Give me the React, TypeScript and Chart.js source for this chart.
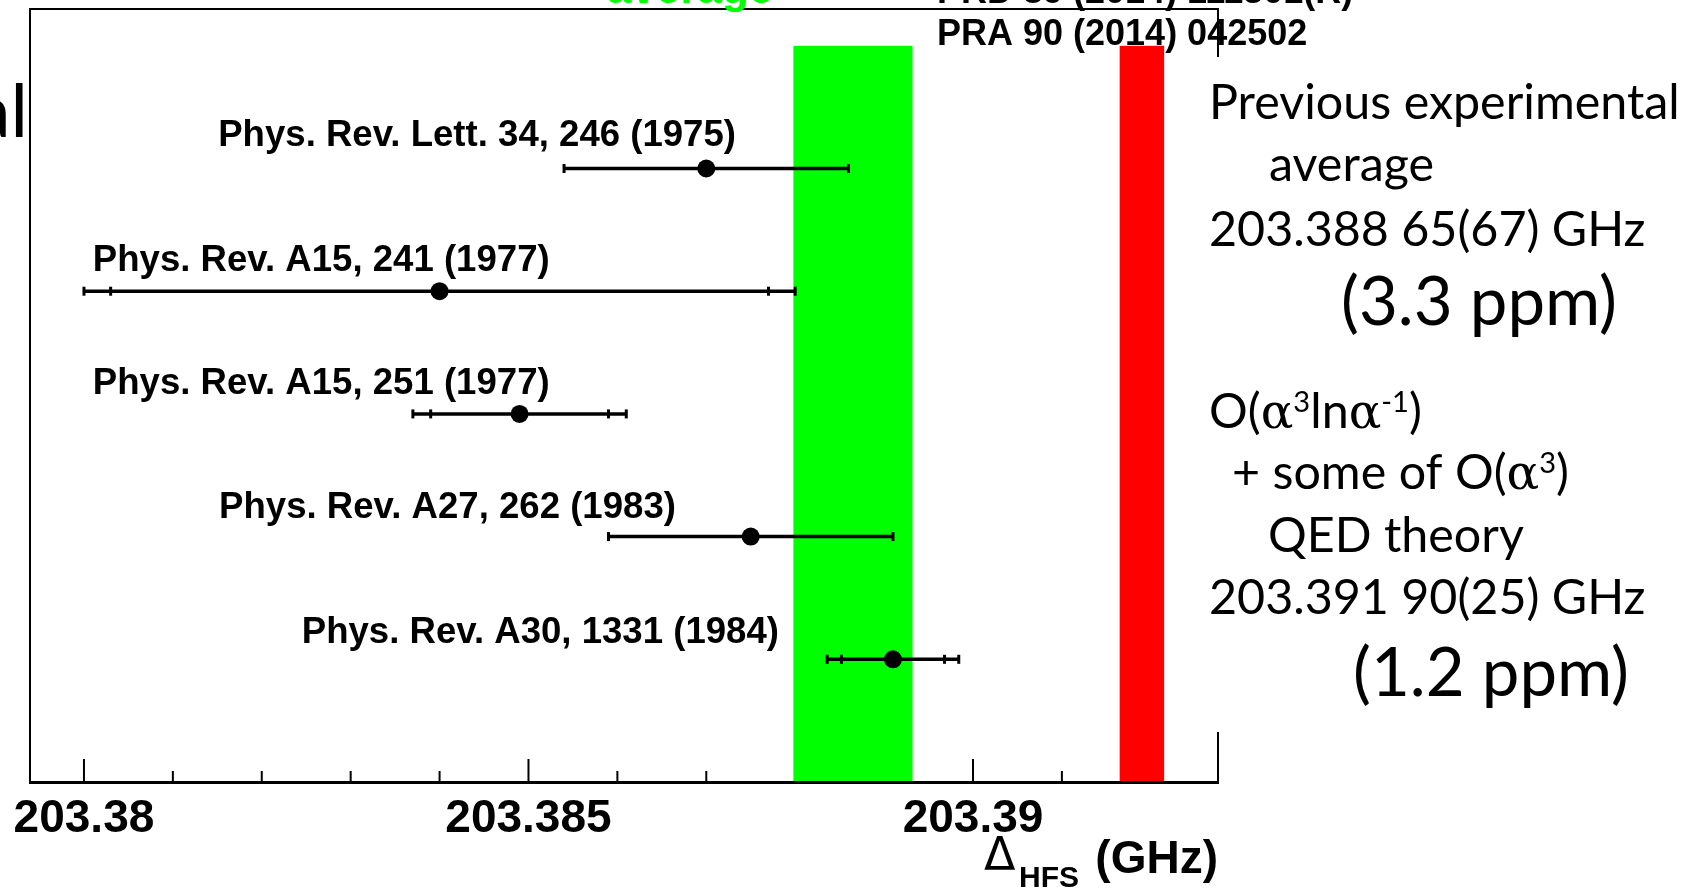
import React, { useEffect, useRef } from "react";
import { Chart, registerables } from "chart.js";

Chart.register(...registerables);

// ---------- data ----------
const references = [
  "Phys. Rev. Lett. 34, 246 (1975)",
  "Phys. Rev. A15, 241 (1977)",
  "Phys. Rev. A15, 251 (1977)",
  "Phys. Rev. A27, 262 (1983)",
  "Phys. Rev. A30, 1331 (1984)",
];
const rowY = [5, 4, 3, 2, 1];
const values = [203.387, 203.384, 203.3849, 203.3875, 203.3891];
const totalErr = [0.0016, 0.004, 0.0012, 0.0016, 0.00074];
const statErr: (number | null)[] = [null, 0.0037, 0.001, null, 0.00058];

const avgCenter = 203.38865;
const avgErr = 0.00067;
const theoryCenter = 203.3919;
const theoryErr = 0.00025;
const bandTop = 6;

const xMin = 203.379393;
const xMax = 203.392756;
const yMin = 0;
const yMax = 6.3;

const tickValues = [
  203.38, 203.381, 203.382, 203.383, 203.384, 203.385, 203.386, 203.387,
  203.388, 203.389, 203.39, 203.391, 203.392,
];
const majorTicks = [203.38, 203.385, 203.39];
const tickLabels = ["203.38", "203.385", "203.39"];

// annotation anchors (data units) for the reference labels
const labelAnchorX = [203.38151, 203.3801, 203.3801, 203.38152, 203.38245];
const labelAnchorY = [5.185, 4.167, 3.166, 2.149, 1.131];

type Seg = { t: string; f: string; dy?: number };

function drawRich(ctx: CanvasRenderingContext2D, x: number, y: number, segs: Seg[]) {
  let cx = x;
  for (const s of segs) {
    ctx.font = s.f;
    ctx.fillText(s.t, cx, y + (s.dy || 0));
    cx += ctx.measureText(s.t).width;
  }
}

function fitSize(ctx: CanvasRenderingContext2D, text: string, family: string, target: number) {
  ctx.font = `100px ${family}`;
  return (100 * target) / ctx.measureText(text).width;
}

const hfsPlugin = {
  id: "hfs",
  beforeDatasetsDraw(chart: any) {
    const { ctx, chartArea: a, scales } = chart;
    const x = scales.x;
    const y = scales.y;
    ctx.save();
    // axis ticks (inward)
    ctx.strokeStyle = "#000";
    ctx.lineWidth = 2;
    for (const t of x.ticks) {
      const px = x.getPixelForValue(t.value);
      const major = majorTicks.some((m) => Math.abs(m - t.value) < 1e-7);
      ctx.beginPath();
      ctx.moveTo(px, a.bottom);
      ctx.lineTo(px, a.bottom - (major ? 23 : 11));
      ctx.stroke();
    }
    // bands
    const yb = y.getPixelForValue(0);
    const yt = y.getPixelForValue(bandTop);
    const gl = x.getPixelForValue(avgCenter - avgErr);
    const gr = x.getPixelForValue(avgCenter + avgErr);
    ctx.fillStyle = "#00ff00";
    ctx.fillRect(gl, yt, gr - gl, yb - yt);
    const rl = x.getPixelForValue(theoryCenter - theoryErr);
    const rr = x.getPixelForValue(theoryCenter + theoryErr);
    ctx.fillStyle = "#ff0000";
    ctx.fillRect(rl, yt, rr - rl, yb - yt);
    // error bars
    ctx.strokeStyle = "#000";
    values.forEach((v, i) => {
      const py = y.getPixelForValue(rowY[i]);
      const l = x.getPixelForValue(v - totalErr[i]);
      const r = x.getPixelForValue(v + totalErr[i]);
      ctx.lineWidth = 3.5;
      ctx.beginPath();
      ctx.moveTo(l, py);
      ctx.lineTo(r, py);
      ctx.stroke();
      const caps = [l, r];
      const s = statErr[i];
      if (s != null) {
        caps.push(x.getPixelForValue(v - s), x.getPixelForValue(v + s));
      }
      ctx.lineWidth = 3;
      for (const c of caps) {
        ctx.beginPath();
        ctx.moveTo(c, py - 4.5);
        ctx.lineTo(c, py + 4.5);
        ctx.stroke();
      }
    });
    ctx.restore();
  },
  afterDraw(chart: any) {
    const { ctx, chartArea: a, scales } = chart;
    const x = scales.x;
    const y = scales.y;
    ctx.save();
    // frame
    ctx.strokeStyle = "#000";
    ctx.lineWidth = 2;
    ctx.beginPath();
    ctx.moveTo(a.left, a.bottom);
    ctx.lineTo(a.left, a.top);
    ctx.lineTo(a.right, a.top);
    ctx.lineTo(a.right, a.bottom);
    ctx.stroke();
    ctx.lineWidth = 3;
    ctx.beginPath();
    ctx.moveTo(a.left - 1, a.bottom + 0.5);
    ctx.lineTo(a.right + 1, a.bottom + 0.5);
    ctx.stroke();

    // reference labels
    ctx.fillStyle = "#000";
    ctx.textAlign = "left";
    ctx.textBaseline = "alphabetic";
    ctx.font = 'bold 36.6px "Liberation Sans"';
    references.forEach((r, i) => {
      ctx.fillText(r, x.getPixelForValue(labelAnchorX[i]), y.getPixelForValue(labelAnchorY[i]));
    });

    // axis title
    ctx.font = 'bold 46px "Liberation Sans"';
    ctx.textAlign = "right";
    ctx.fillText("(GHz)", a.right, 873);
    ctx.textAlign = "left";
    ctx.font = 'bold 30px "Liberation Sans"';
    ctx.fillText("HFS", a.right - 199, 887);
    ctx.font = '46px "DejaVu Sans"';
    ctx.fillText("\u0394", a.right - 234, 870);

    // texts above the frame (cut off by the page edge)
    ctx.font = 'bold 44px "Liberation Sans"';
    ctx.fillStyle = "#00ff00";
    ctx.fillText("average", 607, 3);
    ctx.fillStyle = "#000";
    ctx.font = 'bold 36px "Liberation Sans"';
    ctx.fillText("PRD 89 (2014) 111301(R)", 937, 3);
    ctx.fillText("PRA 90 (2014) 042502", 937, 45);

    // cut-off word on the left
    ctx.font = "74px Lato";
    ctx.textAlign = "right";
    ctx.fillText("experimental", 28, 137);
    ctx.textAlign = "left";

    // right-hand text box
    ctx.fillStyle = "#fff";
    ctx.fillRect(1192, 57, 513, 675);
    ctx.fillStyle = "#000";
    const bs = fitSize(ctx, "Previous experimental", "Lato", 471);
    const big = fitSize(ctx, "(3.3 ppm)", "Lato", 276);
    const base = `${bs}px Lato`;
    const sup = `${bs * 0.6}px Lato`;
    const greek = `${bs * 1.0}px "DejaVu Serif"`;
    const supDy = -bs * 0.34;
    ctx.font = base;
    ctx.fillText("Previous experimental", 1209, 119);
    ctx.fillText("average", 1269, 181);
    ctx.fillText("203.388 65(67) GHz", 1209, 246);
    ctx.font = `${big}px Lato`;
    ctx.fillText("(3.3 ppm)", 1341, 325);
    drawRich(ctx, 1209, 428, [
      { t: "O(", f: base },
      { t: "\u03b1", f: greek },
      { t: "3", f: sup, dy: supDy },
      { t: "ln", f: base },
      { t: "\u03b1", f: greek },
      { t: "-1", f: sup, dy: supDy },
      { t: ")", f: base },
    ]);
    drawRich(ctx, 1232, 489, [
      { t: "+ some of O(", f: base },
      { t: "\u03b1", f: greek },
      { t: "3", f: sup, dy: supDy },
      { t: ")", f: base },
    ]);
    ctx.font = base;
    ctx.fillText("QED theory", 1268, 552);
    ctx.fillText("203.391 90(25) GHz", 1209, 614);
    ctx.font = `${big}px Lato`;
    ctx.fillText("(1.2 ppm)", 1353, 696);
    ctx.restore();
  },
};

export default function App() {
  const ref = useRef<HTMLCanvasElement | null>(null);
  useEffect(() => {
    if (!ref.current) return;
    const chart = new Chart(ref.current, {
      type: "scatter",
      data: {
        datasets: [
          {
            data: values.map((v, i) => ({ x: v, y: rowY[i] })),
            pointRadius: 9,
            pointHoverRadius: 9,
            pointBackgroundColor: "#000",
            pointBorderWidth: 0,
            showLine: false,
          },
        ],
      },
      options: {
        responsive: false,
        animation: false,
        devicePixelRatio: 1,
        events: [],
        layout: { padding: { left: 30, right: 487, top: 8, bottom: 0 } },
        plugins: { legend: { display: false }, tooltip: { enabled: false } },
        scales: {
          x: {
            type: "linear",
            position: "bottom",
            min: xMin,
            max: xMax,
            grid: { display: false },
            border: { display: false },
            afterBuildTicks: (s: any) => {
              s.ticks = tickValues.map((v) => ({ value: v }));
            },
            afterFit: (s: any) => {
              s.height = 106;
            },
            ticks: {
              autoSkip: false,
              maxRotation: 0,
              minRotation: 0,
              padding: 2,
              color: "#000",
              font: { family: "Liberation Sans", weight: "bold", size: 46 },
              callback: (v: any) => {
                const i = majorTicks.findIndex((m) => Math.abs(m - Number(v)) < 1e-7);
                return i >= 0 ? tickLabels[i] : "";
              },
            },
          },
          y: { type: "linear", min: yMin, max: yMax, display: false },
        },
      },
      plugins: [hfsPlugin],
    } as any);
    return () => chart.destroy();
  }, []);
  return (
    <div style={{ position: "absolute", left: 0, top: 0, width: 1705, height: 888, background: "#fff" }}>
      <canvas ref={ref} width={1705} height={888} style={{ display: "block" }} />
    </div>
  );
}
